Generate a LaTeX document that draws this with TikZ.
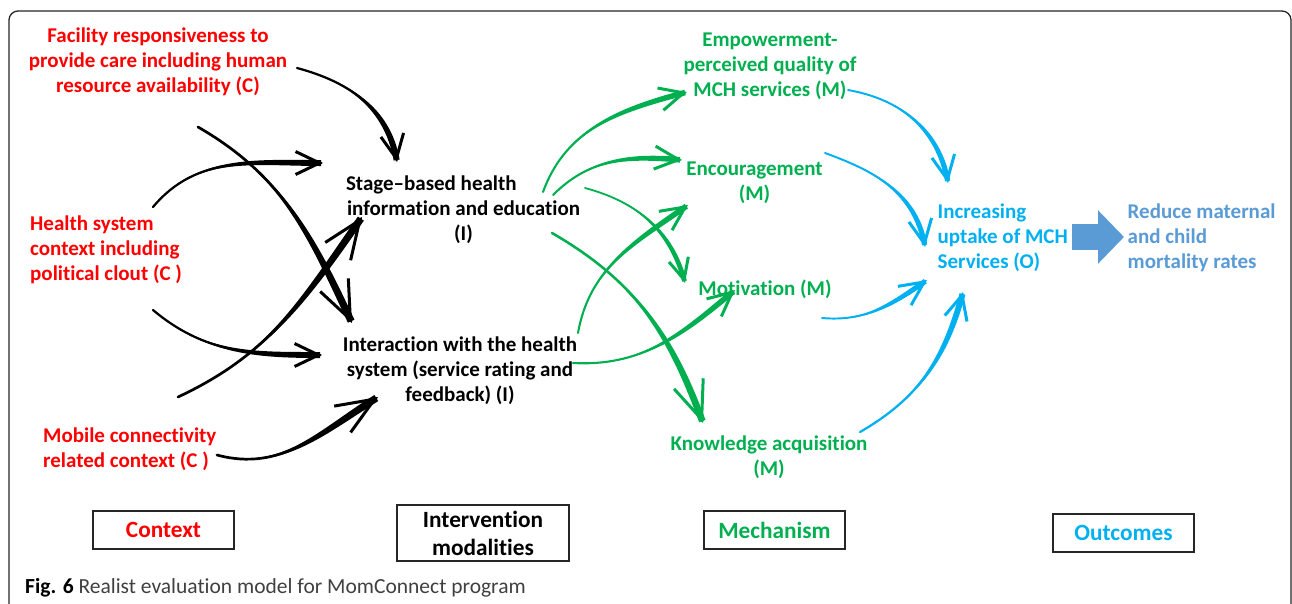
\documentclass[tikz,border=0pt]{standalone}
\usepackage{fontspec}
\setmainfont{Carlito}[Ligatures=NoCommon]
\usetikzlibrary{arrows.meta,calc}
\definecolor{cred}{HTML}{FF0000}
\definecolor{cgreen}{HTML}{00B050}
\definecolor{ccyan}{HTML}{00B0F0}
\definecolor{cblue}{HTML}{5B9BD5}
% #1 colour, #2 start, #3 end, #4 out, #5 in, #6 half width, #7 tip size
\newcommand\tarrow[7]{%
  \fill[#1] (#2) to[out=#4,in=#5] ([shift={({#5}:2pt)},shift={({#5+90}:#6)}]#3)
     -- ([shift={({#5}:2pt)},shift={({#5-90}:#6)}]#3) to[out=#5,in=#4] (#2) -- cycle;
  \draw[#1, line width=0.75*#6, line cap=round] (#2) to[out=#4,in=#5] ([shift={({#5}:2pt)}]#3);
  \draw[#1, line width=3pt, -{Straight Barb[#7]}] ([shift={({#5}:4pt)}]#3) -- (#3);
}
\tikzset{
  lbl/.style={font=\fontsize{21}{25}\selectfont\bfseries, inner sep=0pt, align=center},
  lblL/.style={lbl, align=left, anchor=west},
  cat/.style={draw=black!85, line width=1.2pt, font=\fontsize{23.3}{28}\selectfont\bfseries,
    minimum width=141pt, minimum height=38pt, inner sep=0pt, align=center},
}
\def\tipN{length=24pt,width=23pt}
\def\tipB{length=38pt,width=31pt}
\def\tipS{length=21pt,width=20pt}
\begin{document}
\begin{tikzpicture}[x=1pt,y=1pt]
\useasboundingbox (0,0) rectangle (1292,-603);
\fill[white] (0,0) rectangle (1292,-603);
% frame
\draw[line width=1.3pt, black!85, rounded corners=9pt] (9,-610) -- (9,-11) -- (1291,-11) -- (1291,-610);

% text nodes
\node[lbl, text=cred] (fac) at (158,-62) {Facility responsiveness to\\provide care including human\\resource availability (C)};
\node[lblL, text=cred] (hea) at (30,-250) {Health system\\context including\\political clout (C )};
\node[lblL, text=cred] (mob) at (43,-449) {Mobile connectivity\\related context (C )};
\node[lbl] (stage) at (463.5,-210) {\makebox[235pt][l]{Stage–based health}\\information and education\\(I)};
\node[lbl] (inter) at (460,-371) {Interaction with the health\\system (service rating and\\feedback) (I)};
\node[lbl, text=cgreen] (emp) at (770,-66) {Empowerment-\\perceived quality of\\MCH services (M)};
\node[lbl, text=cgreen] (enc) at (754.5,-183) {Encouragement\\(M)};
\node[lbl, text=cgreen] (mot) at (765,-289) {Motivation (M)};
\node[lbl, text=cgreen] (know) at (769,-457.5) {Knowledge acquisition\\(M)};
\node[lblL, text=ccyan] (inc) at (937.5,-238) {Increasing\\uptake of MCH\\Services (O)};
\node[lblL, text=cblue] (redu) at (1127.5,-237.5) {Reduce maternal\\and child\\mortality rates};

% category boxes
\node[cat, text=cred] (ctx) at (163.5,-530) {Context};
\node[cat, minimum width=172pt, minimum height=56pt] (intv) at (483,-533) {Intervention\\modalities};
\node[cat, text=cgreen] (mech) at (774.5,-530) {Mechanism};
\node[cat, text=ccyan] (outc) at (1123.5,-533) {Outcomes};

% caption
\node[anchor=base west, inner sep=0pt, font=\fontsize{21.5}{26}\selectfont] (cap) at (25,-593)
  {\textbf{Fig. 6} \textcolor{black!75}{Realist evaluation model for MomConnect program}};

% connector end points
\coordinate (k1s) at (297,-68);  \coordinate (k1e) at (397,-162);
\coordinate (k2s) at (153,-207); \coordinate (k2e) at (323,-163);
\coordinate (k3s) at (153,-310); \coordinate (k3e) at (322,-355);
\coordinate (k4s) at (198,-127); \coordinate (k4e) at (352,-323);
\coordinate (k5s) at (178,-397); \coordinate (k5e) at (362,-217);
\coordinate (k6s) at (217,-455); \coordinate (k6e) at (378,-397);
\coordinate (g1s) at (543,-192); \coordinate (g1e) at (687,-92);
\coordinate (g2s) at (553,-195); \coordinate (g2e) at (682,-160);
\coordinate (g3s) at (585,-188); \coordinate (g3e) at (685,-283);
\coordinate (g4s) at (552,-233); \coordinate (g4e) at (703,-423);
\coordinate (g5s) at (578,-333); \coordinate (g5e) at (688,-205);
\coordinate (g6s) at (573,-363); \coordinate (g6e) at (735,-290);
\coordinate (b1s) at (848,-90);  \coordinate (b1e) at (948,-183);
\coordinate (b2s) at (825,-153); \coordinate (b2e) at (925,-247);
\coordinate (b3s) at (822,-318); \coordinate (b3e) at (927,-280);
\coordinate (b4s) at (860,-432); \coordinate (b4e) at (963,-292);
\coordinate (bas) at (1072,-237); \coordinate (bae) at (1124,-237);

% black connectors (context -> intervention)
\tarrow{black}{k1s}{k1e}{-15}{100}{3pt}{\tipN}
\tarrow{black}{k2s}{k2e}{50}{180}{3pt}{\tipN}
\tarrow{black}{k3s}{k3e}{-40}{180}{3pt}{\tipN}
\tarrow{black}{k4s}{k4e}{-30}{115}{3.6pt}{\tipB}
\tarrow{black}{k5s}{k5e}{25}{-125}{3.6pt}{\tipB}
\tarrow{black}{k6s}{k6e}{-15}{212}{3.6pt}{\tipB}
% green connectors (intervention -> mechanism)
\tarrow{cgreen}{g1s}{g1e}{70}{195}{2.8pt}{\tipN}
\tarrow{cgreen}{g2s}{g2e}{45}{175}{2.8pt}{\tipN}
\tarrow{cgreen}{g3s}{g3e}{-15}{105}{2.4pt}{\tipS}
\tarrow{cgreen}{g4s}{g4e}{-30}{110}{3.4pt}{\tipB}
\tarrow{cgreen}{g5s}{g5e}{80}{215}{2.8pt}{\tipN}
\tarrow{cgreen}{g6s}{g6e}{-3}{220}{2.8pt}{\tipN}
% blue connectors (mechanism -> outcome)
\tarrow{ccyan}{b1s}{b1e}{-10}{100}{2.6pt}{\tipN}
\tarrow{ccyan}{b2s}{b2e}{-20}{100}{2.6pt}{\tipN}
\tarrow{ccyan}{b3s}{b3e}{-5}{215}{2.6pt}{\tipN}
\tarrow{ccyan}{b4s}{b4e}{30}{255}{3pt}{\tipN}
% block arrow
\draw[cblue, line width=26pt, -{Triangle[length=26pt,width=52pt]}] (bas) -- (bae);
\end{tikzpicture}
\end{document}
